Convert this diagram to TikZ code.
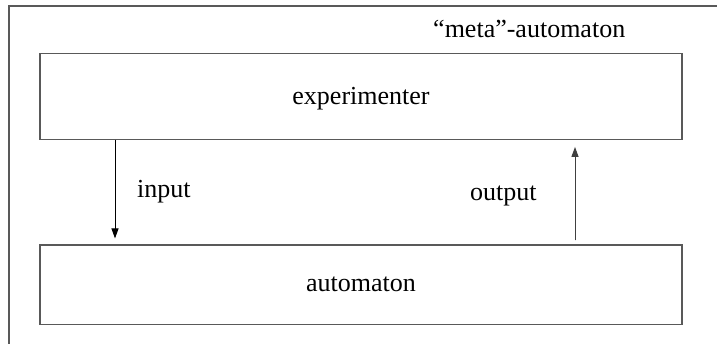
\documentclass[tikz,border=0pt]{standalone}
\usepackage{fontspec}
\setmainfont{Liberation Serif}
\usetikzlibrary{arrows.meta}
\begin{document}
\begin{tikzpicture}[x=1pt,y=-1pt,
  frame/.style={draw=black!65, line width=1.2pt},
  box/.style={draw=black!65, line width=1.2pt, minimum width=642pt, inner sep=0pt,
    font=\fontsize{26}{30}\selectfont},
  lbl/.style={font=\fontsize{26}{30}\selectfont, anchor=base west, inner sep=0pt},
  flow/.style={-{Triangle[length=10pt,width=7pt]}, line width=1pt}]
\useasboundingbox (0,0) rectangle (717,344);
\draw[frame] (9,345) -- (9,6) -- (718,6);
\node[box, text height=20pt, text depth=4pt, minimum height=86pt] (exp) at (361,96.3) {experimenter};
\node[box, text height=18pt, text depth=4pt, minimum height=79.3pt] (aut) at (361,284.7) {automaton};
\node[lbl] (meta) at (433,38) {“meta”-automaton};
\node[lbl] (in) at (137,198) {input};
\node[lbl] (out) at (470,201) {output};
\coordinate (inx) at (115,0);
\coordinate (outx) at (575,0);
\draw[flow, shorten >=6pt] (exp.south -| inx) -- (aut.north -| inx);
\draw[flow, draw=black!75, fill=black!75, shorten <=4pt, shorten >=7pt] (aut.north -| outx) -- (exp.south -| outx);
\end{tikzpicture}
\end{document}
